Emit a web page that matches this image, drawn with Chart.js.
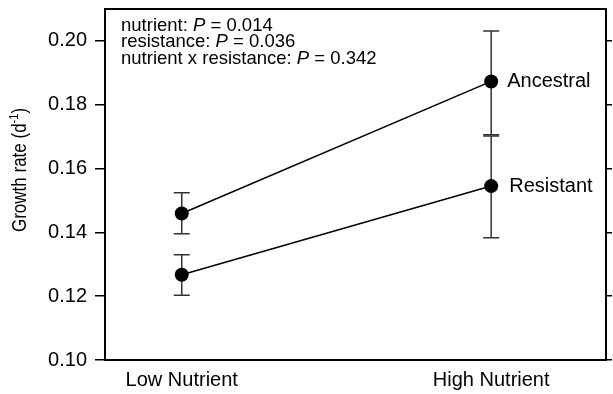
<!DOCTYPE html>
<html>
<head>
<meta charset="utf-8">
<script src="https://cdn.jsdelivr.net/npm/chart.js@4/dist/chart.umd.min.js"></script>
<style>
  html, body { margin: 0; padding: 0; background: #fff; }
  #wrap { width: 613px; height: 394px; }
</style>
</head>
<body>
<div id="wrap"><canvas id="growth" width="613" height="394"></canvas></div>
<script>
// data
var conditions = ['Low Nutrient', 'High Nutrient'];
var xPos = [1, 2];
var seriesNames = ['Ancestral', 'Resistant'];
var ancestral = [0.1459, 0.1873];
var ancestralLow = [0.1396, 0.1706];
var ancestralHigh = [0.1524, 0.2031];
var resistant = [0.1267, 0.1545];
var resistantLow = [0.1203, 0.1383];
var resistantHigh = [0.1330, 0.1702];
var statLines = [
    ['nutrient: ', '0.014'],
    ['resistance: ', '0.036'],
    ['nutrient x resistance: ', '0.342']
];

var FONT = '"Liberation Sans", Arial, Helvetica, sans-serif';

function pts(vals) {
    var out = [];
    for (var i = 0; i < vals.length; i++) out.push({ x: xPos[i], y: vals[i] });
    return out;
}

var errors = [
    { low: ancestralLow, high: ancestralHigh },
    { low: resistantLow, high: resistantHigh }
];

// error bars, under the points
var errorBars = {
    id: 'errorBars',
    beforeDatasetsDraw: function (chart) {
        var ctx = chart.ctx, xs = chart.scales.x, ys = chart.scales.y;
        ctx.save();
        ctx.strokeStyle = '#333';
        ctx.lineWidth = 1.5;
        for (var d = 0; d < errors.length; d++) {
            for (var i = 0; i < xPos.length; i++) {
                var px = xs.getPixelForValue(xPos[i]);
                var lo = ys.getPixelForValue(errors[d].low[i]);
                var hi = ys.getPixelForValue(errors[d].high[i]);
                ctx.beginPath();
                ctx.moveTo(px, lo); ctx.lineTo(px, hi);
                ctx.moveTo(px - 8, lo); ctx.lineTo(px + 8, lo);
                ctx.moveTo(px - 8, hi); ctx.lineTo(px + 8, hi);
                ctx.stroke();
            }
        }
        ctx.restore();
    }
};

// frame, labels, stats text, y title
var extras = {
    id: 'extras',
    afterDraw: function (chart) {
        var ctx = chart.ctx, a = chart.chartArea;
        var xs = chart.scales.x, ys = chart.scales.y;
        ctx.save();
        ctx.strokeStyle = '#000';
        ctx.lineWidth = 2;
        ctx.strokeRect(a.left, a.top, a.right - a.left, a.bottom - a.top);

        // series labels at the High Nutrient end
        ctx.fillStyle = '#000';
        ctx.font = '20px ' + FONT;
        ctx.textBaseline = 'middle';
        ctx.textAlign = 'left';
        var lastVals = [ancestral[1], resistant[1]];
        var offs = [16, 18];
        for (var i = 0; i < seriesNames.length; i++) {
            ctx.fillText(seriesNames[i], xs.getPixelForValue(xPos[1]) + offs[i], ys.getPixelForValue(lastVals[i]));
        }

        // stats
        ctx.textBaseline = 'alphabetic';
        for (var j = 0; j < statLines.length; j++) {
            var x = 121, y = 30.5 + j * 16.8;
            ctx.font = '18.5px ' + FONT;
            ctx.fillText(statLines[j][0], x, y);
            x += ctx.measureText(statLines[j][0]).width;
            ctx.font = 'italic 18.5px ' + FONT;
            ctx.fillText('P', x, y);
            x += ctx.measureText('P').width;
            ctx.font = '18.5px ' + FONT;
            ctx.fillText(' = ' + statLines[j][1], x, y);
        }

        // y title with superscript
        ctx.translate(21, 170);
        ctx.rotate(-Math.PI / 2);
        ctx.scale(1, 1.15);
        var t1 = 'Growth rate (d', sup = '-1', t2 = ')';
        ctx.font = '17px ' + FONT;
        var w1 = ctx.measureText(t1).width, w3 = ctx.measureText(t2).width;
        ctx.font = '11px ' + FONT;
        var w2 = ctx.measureText(sup).width;
        var sx = -(w1 + w2 + w3) / 2;
        ctx.textBaseline = 'middle';
        ctx.font = '17px ' + FONT;
        ctx.fillText(t1, sx, 0);
        ctx.font = '11px ' + FONT;
        ctx.fillText(sup, sx + w1, -6);
        ctx.font = '17px ' + FONT;
        ctx.fillText(t2, sx + w1 + w2, 0);
        ctx.restore();
    }
};

function noPad(s) { s.paddingTop = 0; s.paddingBottom = 0; }

new Chart(document.getElementById('growth'), {
    type: 'line',
    data: {
        datasets: [
            {
                label: seriesNames[0],
                data: pts(ancestral),
                borderColor: '#000',
                backgroundColor: '#000',
                borderWidth: 1.5,
                pointRadius: 7,
                pointBorderWidth: 0,
                pointBackgroundColor: '#000'
            },
            {
                label: seriesNames[1],
                data: pts(resistant),
                borderColor: '#000',
                backgroundColor: '#000',
                borderWidth: 1.5,
                pointRadius: 7,
                pointBorderWidth: 0,
                pointBackgroundColor: '#000'
            }
        ]
    },
    options: {
        responsive: false,
        animation: false,
        layout: { padding: { top: 9, left: 0, right: 0, bottom: 0 } },
        plugins: {
            legend: { display: false },
            tooltip: { enabled: false }
        },
        scales: {
            x: {
                type: 'linear',
                min: 0.752,
                max: 2.371,
                afterBuildTicks: function (s) {
                    s.ticks = xPos.map(function (v) { return { value: v }; });
                },
                afterFit: function (s) { s.height = 34; s.paddingLeft = 0; s.paddingRight = 0; },
                ticks: {
                    padding: 8,
                    color: '#000',
                    font: { family: FONT, size: 20 },
                    maxRotation: 0,
                    callback: function (v, i) { return conditions[i]; }
                },
                grid: { display: true, drawOnChartArea: false, drawTicks: false },
                border: { display: false }
            },
            y: {
                position: 'left',
                min: 0.10,
                max: 0.21,
                afterFit: function (s) { s.width = 105; noPad(s); },
                ticks: {
                    stepSize: 0.02,
                    includeBounds: false,
                    padding: 8,
                    color: '#000',
                    font: { family: FONT, size: 20 },
                    callback: function (v) { return v.toFixed(2); }
                },
                grid: { drawOnChartArea: false, drawTicks: true, tickLength: 10, color: '#000', lineWidth: 1.5 },
                border: { display: false }
            },
            y2: {
                position: 'right',
                min: 0.10,
                max: 0.21,
                afterFit: function (s) { s.width = 6; noPad(s); },
                ticks: { stepSize: 0.02, includeBounds: false, display: false },
                grid: { drawOnChartArea: false, drawTicks: true, tickLength: 6, color: '#000', lineWidth: 1.5 },
                border: { display: false }
            }
        }
    },
    plugins: [errorBars, extras]
});
</script>
</body>
</html>
